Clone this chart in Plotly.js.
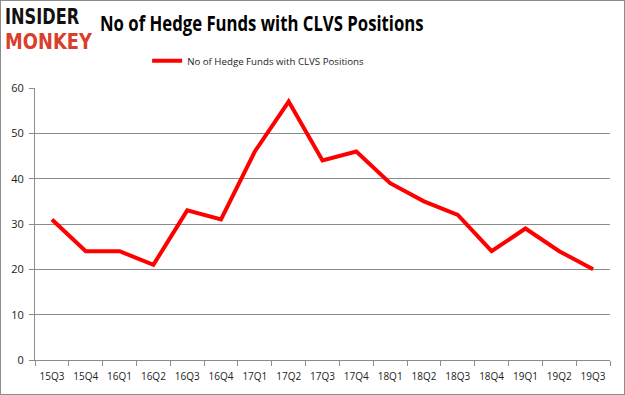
<!DOCTYPE html>
<html>
<head>
<meta charset="utf-8">
<script src="https://cdn.plot.ly/plotly-3.0.1.min.js"></script>
<style>
html,body{margin:0;padding:0;background:#fff;}
#wrap{width:625px;height:395px;box-sizing:border-box;border:1px solid #8c8c8c;position:relative;overflow:hidden;}
#chart{position:absolute;left:-1px;top:-1px;width:625px;height:395px;}
.txt{position:absolute;white-space:nowrap;transform-origin:0 0;}
#logo1{left:4px;top:4px;font:bold 21px "DejaVu Sans",sans-serif;line-height:24px;color:#111;transform:scaleX(0.77);}
#logo2{left:4px;top:29px;font:bold 21px "DejaVu Sans",sans-serif;line-height:24px;color:#d9402b;transform:scaleX(0.85);}
#title{left:99px;top:10px;font:bold 22px "Open Sans",sans-serif;line-height:1;color:#000;transform:scaleX(0.76);}
</style>
</head>
<body>
<div id="wrap"><div id="chart"></div>
<div class="txt" id="logo1"></div>
<div class="txt" id="logo2"></div>
<div class="txt" id="title"></div>
</div>
<script>
const quarters = ["15Q3","15Q4","16Q1","16Q2","16Q3","16Q4","17Q1","17Q2","17Q3","17Q4","18Q1","18Q2","18Q3","18Q4","19Q1","19Q2","19Q3"];
const hedgeFunds = [31,24,24,21,33,31,46,57,44,46,39,35,32,24,29,24,20];
const seriesName = "No of Hedge Funds with CLVS Positions";
const chartTitle = "No of Hedge Funds with CLVS Positions";
const logoTop = "INSIDER";
const logoBottom = "MONKEY";

document.getElementById("logo1").textContent = logoTop;
document.getElementById("logo2").textContent = logoBottom;
document.getElementById("title").textContent = chartTitle;

const trace = {
  x: quarters, y: hedgeFunds, type: "scatter", mode: "lines", name: seriesName,
  line: {color: "#ff0000", width: 4}
};
const layout = {
  width: 625, height: 395,
  margin: {l: 35, r: 15, t: 88, b: 35},
  paper_bgcolor: "rgba(0,0,0,0)", plot_bgcolor: "#fff",
  showlegend: true,
  legend: {orientation: "h", x: 0.195, xanchor: "left", y: 1.1, yanchor: "middle",
    font: {family: "Open Sans, sans-serif", size: 9.7, color: "#222"}, itemwidth: 30},
  xaxis: {
    type: "category", showgrid: false, showline: true, linecolor: "#8c8c8c", linewidth: 1,
    ticks: "outside", ticklen: 5, tickcolor: "#8c8c8c", tickson: "boundaries", tickangle: 0,
    ticklabelstandoff: 7,
    tickfont: {family: "Open Sans, sans-serif", size: 10, color: "#222"},
    range: [-0.5, 16.5]
  },
  yaxis: {
    range: [0, 60], dtick: 10, showgrid: true, gridcolor: "#8c8c8c", gridwidth: 1,
    showline: true, linecolor: "#8c8c8c", linewidth: 1, ticks: "outside", ticklen: 5,
    tickcolor: "#8c8c8c", zeroline: false, ticklabelstandoff: 3,
    tickfont: {family: "Open Sans, sans-serif", size: 11, color: "#222"}
  }
};
Plotly.newPlot("chart", [trace], layout, {displayModeBar: false, staticPlot: true});
</script>
</body>
</html>
